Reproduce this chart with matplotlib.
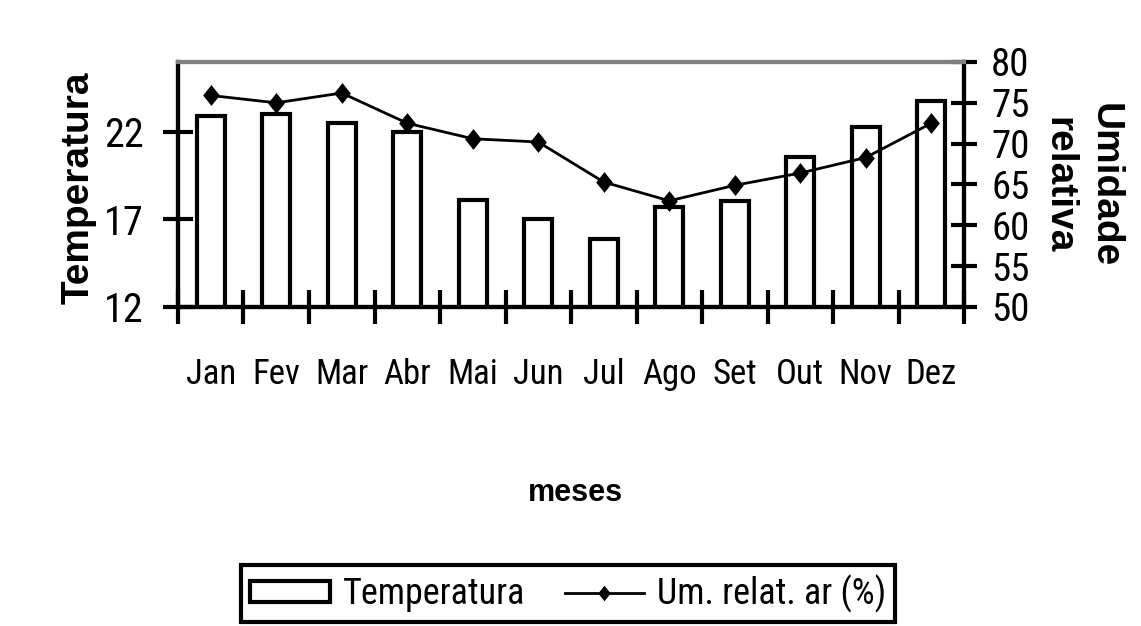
import matplotlib
matplotlib.use("Agg")
from matplotlib import pyplot as plt
import numpy as np

meses = ['Jan', 'Fev', 'Mar', 'Abr', 'Mai', 'Jun', 'Jul', 'Ago', 'Set', 'Out', 'Nov', 'Dez']
temperatura = [22.9, 23.05, 22.5, 22.0, 18.1, 17.0, 15.9, 17.7, 18.05, 20.55, 22.3, 23.75]
umidade = [75.9, 75.0, 76.2, 72.5, 70.6, 70.2, 65.3, 63.0, 64.9, 66.4, 68.3, 72.5]

narrow = ['Roboto Condensed', 'Liberation Sans', 'DejaVu Sans']
bold = ['Liberation Sans', 'DejaVu Sans']
plt.rcParams['font.family'] = narrow

# losango mais alto que largo, como no original
losango = [(0, 1), (0.8, 0), (0, -1), (-0.8, 0), (0, 1)]

fig = plt.figure(figsize=(11.41, 6.26), dpi=100)
ax = fig.add_axes([0.156, 0.5096, 0.6889, 0.3914])
ax2 = ax.twinx()

x = np.arange(len(meses))
ax.bar(x, temperatura, width=0.43, color='white', edgecolor='black',
       linewidth=3, label='Temperatura', zorder=2)
ax2.plot(x, umidade, color='black', linewidth=2, marker=losango, markersize=15,
         markerfacecolor='black', markeredgewidth=0, label='Um. relat. ar (%)')

ax.set_xlim(-0.5, 11.5)
ax.set_ylim(12, 26)
ax2.set_ylim(50, 80)

ax.set_yticks([12, 17, 22])
ax2.set_yticks([50, 55, 60, 65, 70, 75, 80])
ax.set_xticks(x)
ax.set_xticklabels(meses)
ax.set_xticks(np.arange(-0.5, 12, 1), minor=True)
ax.tick_params(axis='x', which='major', length=0, pad=37, labelsize=25)
ax.tick_params(axis='x', which='minor', direction='inout', length=25, width=3)
ax.tick_params(axis='y', direction='inout', length=21, width=3, pad=14, labelsize=29)
ax2.tick_params(axis='y', direction='inout', length=19, width=3, pad=10, labelsize=28)

for a in (ax, ax2):
    a.spines['top'].set_color('#808080')
    for s in ('top', 'left', 'bottom', 'right'):
        a.spines[s].set_linewidth(3)

fig.text(0.0688, 0.70, 'Temperatura', fontsize=28, fontweight='bold', family=bold,
         rotation=90, ha='center', va='center')
fig.text(0.948, 0.704, 'Umidade\nrelativa', fontsize=28, fontweight='bold', family=bold,
         rotation=270, ha='center', va='center', multialignment='center', linespacing=1.35)
fig.text(0.504, 0.212, 'meses', fontsize=22, fontweight='bold', family=bold,
         ha='center', va='center')

h1, l1 = ax.get_legend_handles_labels()
h2, l2 = ax2.get_legend_handles_labels()
leg = fig.legend(h1 + h2, l1 + l2, loc='center', bbox_to_anchor=(0.498, 0.052),
                 ncol=2, fontsize=26, frameon=True, fancybox=False, handlelength=2.2,
                 handleheight=0.5, columnspacing=1.1, handletextpad=0.35,
                 borderpad=0.25, framealpha=1, markerscale=0.75)
leg.get_frame().set_edgecolor('black')
leg.get_frame().set_linewidth(3)

plt.savefig('out.png', dpi=100)
